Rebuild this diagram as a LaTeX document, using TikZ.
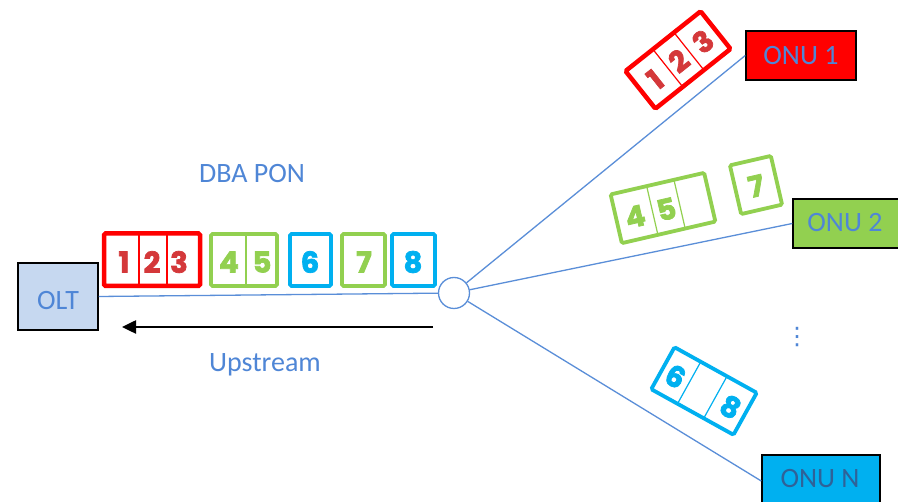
\documentclass[tikz,border=0pt]{standalone}
\usepackage{fontspec}
\setmainfont{Carlito}
\newfontfamily\digitfont{Poppins}[BoldFeatures={FakeBold=2.5}]
\newfontfamily\symfont{DejaVu Sans}
\usetikzlibrary{arrows.meta}

\definecolor{txtblue}{HTML}{4F86D6}
\definecolor{lineblue}{HTML}{5A8ED8}
\definecolor{oltfill}{HTML}{C6D8F0}
\definecolor{pktred}{HTML}{FF0000}
\definecolor{digred}{HTML}{D4383A}
\definecolor{pktgreen}{HTML}{92D050}
\definecolor{pktblue}{HTML}{00B0F0}

\tikzset{
  lbl/.style={text=txtblue, font=\fontsize{28}{30}\selectfont, inner sep=0pt, anchor=base},
  link/.style={draw=lineblue, line width=1.3pt},
  unit/.style={draw=black, line width=1.5pt, inner sep=0pt, rectangle},
  digit/.style={font=\digitfont\bfseries\fontsize{29}{29}\selectfont, inner sep=0pt},
  rframe/.style={draw=pktred, line width=4.5pt, rounded corners=1.5pt},
  gframe/.style={draw=pktgreen, line width=3.8pt, rounded corners=1.5pt},
  bframe/.style={draw=pktblue, line width=3.8pt, rounded corners=1.5pt},
  rdiv/.style={draw=pktred, line width=1.2pt},
  gdiv/.style={draw=pktgreen, line width=1.2pt},
  bdiv/.style={draw=pktblue, line width=1.2pt},
}

\begin{document}
\begin{tikzpicture}[x=1pt, y=-1pt]
\clip (0,0) rectangle (898,502);
\fill[white] (0,0) rectangle (898,502);

% network elements
\node[unit, fill=oltfill, minimum width=80pt, minimum height=67pt] (olt) at (58,296.5) {};
\node[circle, draw=lineblue, line width=1.3pt, fill=white, minimum size=31pt, inner sep=0pt] (sp) at (454,293) {};
\node[unit, fill=pktred, minimum width=110pt, minimum height=49pt] (onu1) at (801,55.5) {};
\node[unit, fill=pktgreen, minimum width=106pt, minimum height=49pt] (onu2) at (846,223.5) {};
\node[unit, fill=pktblue, minimum width=118pt, minimum height=52pt] (onun) at (821,481) {};

% fibre links
\draw[link] (olt.east) -- (sp);
\draw[link] (sp) -- (onu1.west);
\draw[link] (sp) -- (onu2.west);
\draw[link] (sp) -- (onun.west);

% labels
\node[lbl] (oltlbl) at (58,310) {OLT};
\node[lbl] (onu1lbl) at (801,65) {ONU 1};
\node[lbl] (onu2lbl) at (845,232) {ONU 2};
\node[lbl, text=txtblue!85!pktblue!70!black] (onunlbl) at (820,488) {ONU N};
\node[lbl] (dba) at (252,183) {DBA PON};
\node[lbl] (up) at (265,372) {Upstream};
\node[text=txtblue, inner sep=0pt, font=\symfont\fontsize{24}{24}\selectfont] (more) at (797,337) {⋮};

% upstream direction
\coordinate (upfrom) at (433,327);
\coordinate (upto) at (122,327);
\draw[line width=2.5pt, -{Triangle[length=14pt, width=13pt]}] (upfrom) -- (upto);

% upstream frames on the trunk
\draw[rframe] (104,233.5) rectangle (200,286);
\draw[rdiv] (139,233.5) -- (139,286);
\draw[rdiv] (167,233.5) -- (167,286);
\node[digit, text=digred] (t1) at (124,262) {1};
\node[digit, text=digred] (t2) at (152,262) {2};
\node[digit, text=digred] (t3) at (179,262) {3};

\draw[gframe] (211,234) rectangle (277,286);
\draw[gdiv] (246,234) -- (246,286);
\node[digit, text=pktgreen] (t4) at (229,262) {4};
\node[digit, text=pktgreen] (t5) at (262,262) {5};

\draw[bframe] (290,234) rectangle (331,286);
\node[digit, text=pktblue] (t6) at (310,262) {6};

\draw[gframe] (342,234) rectangle (385,286);
\node[digit, text=pktgreen] (t7) at (364,262) {7};

\draw[bframe] (392,234) rectangle (435,286);
\node[digit, text=pktblue] (t8) at (413,262) {8};

% grants for ONU 1
\begin{scope}[shift={(678,60)}, rotate=38.5, transform shape]
  \draw[rframe] (-48,-24) rectangle (48,24);
  \draw[rdiv] (-13,-24) -- (-13,24);
  \draw[rdiv] (14,-24) -- (14,24);
  \node[digit, text=digred] (a1) at (-30,1) {1};
  \node[digit, text=digred] (a2) at (0,1) {2};
  \node[digit, text=digred] (a3) at (31,1) {3};
\end{scope}

% grants for ONU 2
\begin{scope}[shift={(663,208)}, rotate=13, transform shape]
  \draw[gframe] (-48,-25) rectangle (48,25);
  \draw[gdiv] (-11,-25) -- (-11,25);
  \draw[gdiv] (17,-25) -- (17,25);
  \node[digit, text=pktgreen] (b4) at (-29,2) {4};
  \node[digit, text=pktgreen] (b5) at (3,2) {5};
\end{scope}
\begin{scope}[shift={(756,185)}, rotate=13, transform shape]
  \draw[gframe] (-21,-25) rectangle (21,25);
  \node[digit, text=pktgreen] (b7) at (0,1) {7};
\end{scope}

% grants for ONU N
\begin{scope}[shift={(704,391)}, rotate=-29, transform shape]
  \draw[bframe] (-47,-24) rectangle (47,24);
  \draw[bdiv] (-17,-24) -- (-17,24);
  \draw[bdiv] (13,-24) -- (13,24);
  \node[digit, text=pktblue] (c6) at (-32,1) {6};
  \node[digit, text=pktblue] (c8) at (31,1) {8};
\end{scope}
\end{tikzpicture}
\end{document}
